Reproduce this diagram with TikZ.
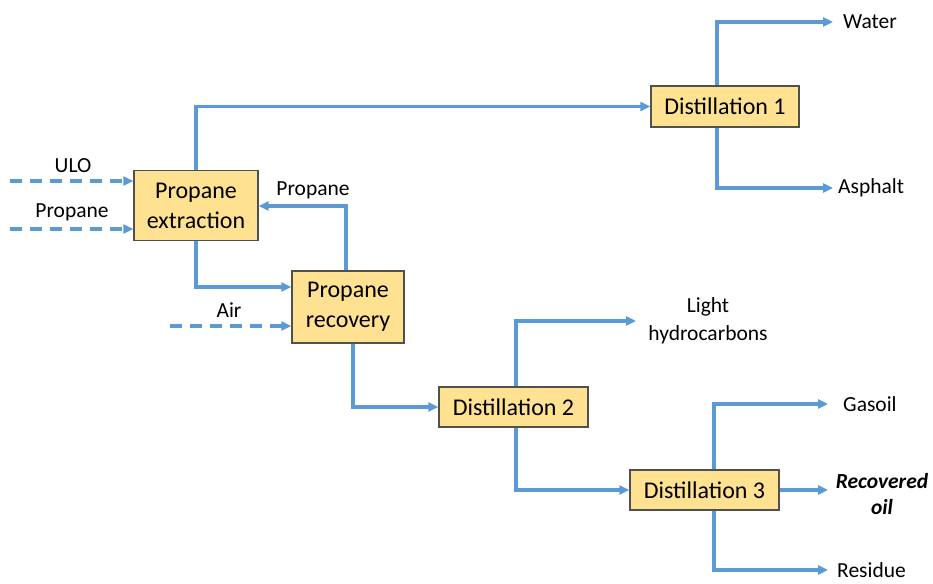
\documentclass[tikz,border=0pt]{standalone}
\usepackage{fontspec}
\setmainfont{Carlito}
\usetikzlibrary{arrows.meta,calc}
\definecolor{flowblue}{RGB}{91,155,213}
\definecolor{unitfill}{RGB}{255,226,145}
\definecolor{unitedge}{RGB}{80,80,80}
\begin{document}
\begin{tikzpicture}[x=1pt,y=-1pt,
  unit/.style={draw=unitedge,line width=1.3pt,fill=unitfill,inner sep=0pt,
    align=center,font=\fontsize{24}{30}\selectfont},
  flow/.style={draw=flowblue,line width=3.3pt,
    -{Triangle[length=10pt,width=9pt]}},
  feed/.style={flow,dash pattern=on 12pt off 8pt},
  lbl/.style={inner sep=0pt,align=center,font=\fontsize{21.5}{28}\selectfont},
]
\useasboundingbox (0,0) rectangle (933,583);

% process units
\node[unit,minimum width=124pt,minimum height=70pt] (pe) at (196,205.5) {Propane\\extraction};
\node[unit,minimum width=112pt,minimum height=72pt] (pr) at (348,307) {Propane\\recovery};
\node[unit,minimum width=148pt,minimum height=41pt] (d1) at (725,106.5) {Distillation 1};
\node[unit,minimum width=149pt,minimum height=40pt] (d2) at (513.5,407) {Distillation 2};
\node[unit,minimum width=149pt,minimum height=40pt] (d3) at (704.5,490) {Distillation 3};

% feed start points and product end points
\coordinate (uloin) at (10,181);
\coordinate (propin) at (10,229);
\coordinate (airin) at (170,326);
\coordinate (water) at (833,22);
\coordinate (asphalt) at (833,188);
\coordinate (light) at (636,321);
\coordinate (gasoil) at (828,404);
\coordinate (recoil) at (828,490);
\coordinate (residue) at (828,570);

% labels
\node[lbl] (tulo) at (73,166) {ULO};
\node[lbl] (tprop) at (72,212) {Propane};
\node[lbl] (tair) at (229,310) {Air};
\node[lbl] (trec) at (313,190) {Propane};
\node[lbl,anchor=west] (twater) at (843,22) {Water};
\node[lbl,anchor=west] (tasph) at (838,188) {Asphalt};
\node[lbl] (tlight) at (708,321) {Light\\hydrocarbons};
\node[lbl,anchor=west] (tgas) at (843,404) {Gasoil};
\node[lbl,font=\fontsize{21.5}{26}\selectfont\bfseries\itshape] (toil) at (882,494) {Recovered\\oil};
\node[lbl,anchor=west] (tres) at (837,570) {Residue};

% feeds
\draw[feed] (uloin) -- (uloin -| pe.west);
\draw[feed] (propin) -- (propin -| pe.west);
\draw[feed] (airin) -- (airin -| pr.west);

% streams between units
\draw[flow] (pe.north) |- (d1.west);
\draw[flow] (pe.south) |- ($(pr.west)+(0,-20)$);
\draw[flow] ([xshift=-2pt]pr.north) |- ($(pe.east)+(0,0.5)$);
\draw[flow] ([xshift=5pt]pr.south) |- (d2.west);
\draw[flow] (d2.south) ++(2.5,0) |- (d3.west);

% products
\draw[flow] ([xshift=-8pt]d1.north) |- (water);
\draw[flow] ([xshift=-8pt]d1.south) |- (asphalt);
\draw[flow] ([xshift=2.5pt]d2.north) |- (light);
\draw[flow] ([xshift=9.5pt]d3.north) |- (gasoil);
\draw[flow] (d3.east) -- (recoil);
\draw[flow] ([xshift=9.5pt]d3.south) |- (residue);
\end{tikzpicture}
\end{document}
